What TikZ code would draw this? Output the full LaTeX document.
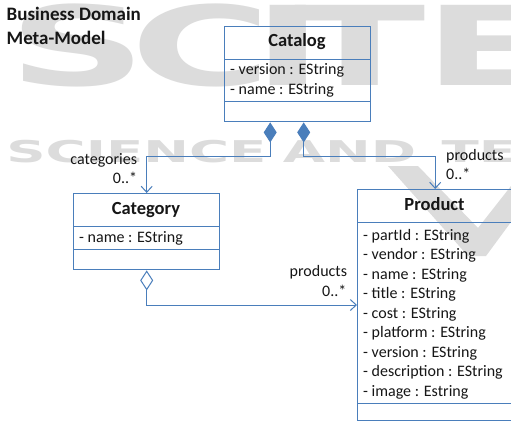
\documentclass[tikz,border=0pt]{standalone}
\usepackage{fontspec}
\setmainfont{Carlito}
\newfontfamily\wmfont{DejaVu Sans}
\usetikzlibrary{arrows.meta}

\definecolor{umlblue}{RGB}{74,126,187}
\definecolor{wmgray}{RGB}{220,220,220}
\definecolor{ink}{RGB}{22,22,22}

\tikzset{
  classbox/.style={draw=umlblue, line width=1.4pt, inner sep=0pt, anchor=north west},
  sepline/.style={draw=umlblue, line width=0.9pt},
  clsname/.style={font=\fontsize{18.5}{22}\selectfont\bfseries, text=ink, anchor=base, inner sep=0pt},
  attr/.style={font=\fontsize{16}{19.5}\selectfont, text=ink, anchor=base west, inner sep=0pt},
  role/.style={font=\fontsize{16}{19.5}\selectfont, text=ink, inner sep=0pt},
  assoc/.style={draw=umlblue, line width=1pt},
  compo/.style={{Diamond[length=20pt,width=13pt,fill=umlblue]}-{Straight Barb[length=6pt,width=11pt]}},
  aggr/.style={{Diamond[length=20pt,width=13pt,fill=white]}-{Straight Barb[length=6pt,width=11pt]}},
  wmbig/.style={font=\wmfont\bfseries\fontsize{110}{110}\selectfont, text=wmgray, anchor=base west, inner sep=0pt, xscale=1.75},
  wmline/.style={font=\wmfont\bfseries\fontsize{30}{30}\selectfont, text=wmgray, anchor=base west, inner sep=0pt, xscale=1.82},
}

\begin{document}
\begin{tikzpicture}[x=1pt,y=-1pt]
\useasboundingbox[fill=white] (0,0) rectangle (511,421);

% publisher watermark, behind the diagram
\node[wmbig] (wmS) at (8,85) {S};
\node[wmbig] (wmC) at (130,85) {C};
\node[wmbig] (wmI) at (252,85) {I};
\node[wmbig] (wmT) at (294,85) {T};
\node[wmbig] (wmE) at (423,85) {E};
\node[wmline] (wmL) at (6,162) {SCIENCE\hspace{9pt}AND\hspace{14pt}TECHNOLOGY};
\fill[wmgray] (388,166) -- (418,166) -- (478,228) -- (511,186) -- (511,222) -- (486,256) -- (468,256) -- cycle;

% title
\node[font=\fontsize{19}{23}\selectfont\bfseries, text=ink, anchor=base west, inner sep=0pt] (title1) at (6.5,20.7) {Business Domain};
\node[font=\fontsize{19}{23}\selectfont\bfseries, text=ink, anchor=base west, inner sep=0pt] (title2) at (6.5,44) {Meta-Model};

% Catalog
\node[classbox, minimum width=146pt, minimum height=95pt] (cat) at (224,26) {};
\draw[sepline] (cat.west |- 0,59.5) -- (cat.east |- 0,59.5);
\draw[sepline] (cat.west |- 0,101) -- (cat.east |- 0,101);
\node[clsname] (catN) at (297,46.7) {Catalog};
\node[attr] (catA1) at (230,74.5) {- version : EString};
\node[attr] (catA2) at (230,94) {- name : EString};

% Category
\node[classbox, minimum width=146pt, minimum height=76pt] (category) at (73,193) {};
\draw[sepline] (category.west |- 0,226) -- (category.east |- 0,226);
\draw[sepline] (category.west |- 0,249.3) -- (category.east |- 0,249.3);
\node[clsname] (categoryN) at (146,214.3) {Category};
\node[attr] (categoryA1) at (79,242.5) {- name : EString};

% Product
\node[classbox, minimum width=155pt, minimum height=230.5pt] (product) at (357,189) {};
\draw[sepline] (product.west |- 0,222.3) -- (product.east |- 0,222.3);
\draw[sepline] (product.west |- 0,403.3) -- (product.east |- 0,403.3);
\node[clsname] (productN) at (434.5,210.7) {Product};
\foreach \a [count=\i from 0] in {partId : EString, vendor : EString, name : EString, title : EString, cost : EString, platform : EString, version : EString, description : EString, image : Estring}
  \node[attr] (productA\i) at (363,240+19.5*\i) {- \a};

% association ends
\coordinate (catL) at ([xshift=-27.5pt]cat.south);
\coordinate (catR) at ([xshift=6pt]cat.south);
\path (product.north west) ++(0,116) coordinate (prodIn);

\draw[assoc, compo] (catL) -- ++(0,34) -| (category.north);
\draw[assoc, compo] (catR) -- ++(0,34) -| (product.north);
\draw[assoc, aggr] (category.south) |- (prodIn);

% role names and multiplicities
\node[role, anchor=base east] (r1) at (137.3,164) {categories};
\node[role, anchor=base east] (m1) at (137.3,183.3) {0..*};
\node[role, anchor=base west] (r2) at (446,160) {products};
\node[role, anchor=base west] (m2) at (446,179.3) {0..*};
\node[role, anchor=base east] (r3) at (347.3,276.7) {products};
\node[role, anchor=base east] (m3) at (346.5,296) {0..*};
\end{tikzpicture}
\end{document}
